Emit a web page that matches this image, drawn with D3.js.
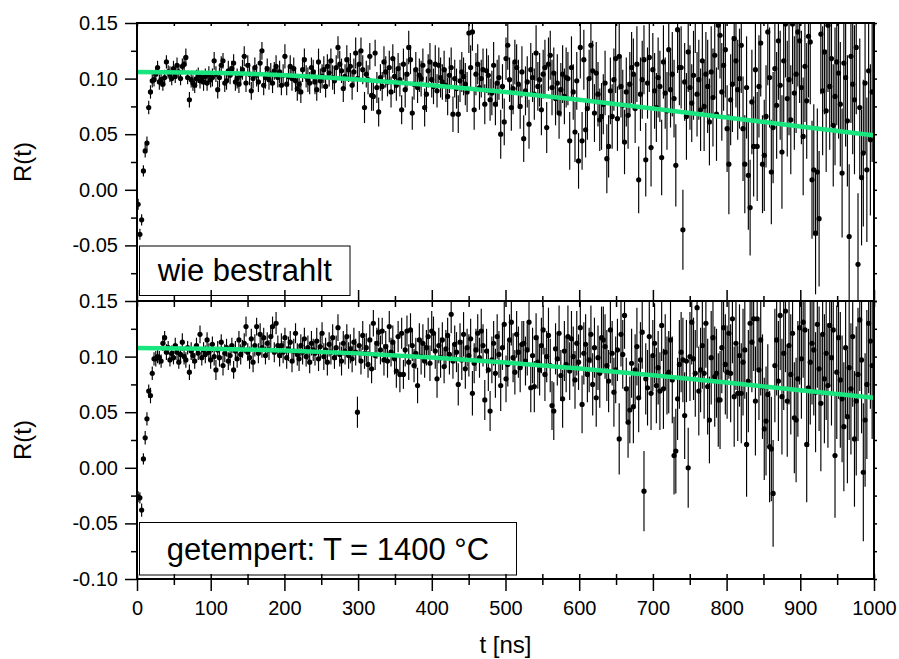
<!DOCTYPE html>
<html>
<head>
<meta charset="utf-8">
<script src="https://cdn.jsdelivr.net/npm/d3@7"></script>
<style>
  html, body { margin: 0; padding: 0; background: #fff; }
  svg { display: block; font-family: "Liberation Sans", Arial, sans-serif; }
</style>
</head>
<body>
<svg id="chart" width="899" height="659"></svg>
<script>
// time channels: first channel centre at 1.5 ns, channel width 2.4 ns
const channelStart = 1.5;
const channelWidth = 2.4;

// R(t) and its error, both in units of 1e-3 -- panel "wie bestrahlt"
const topR = [
  -13,-40,-27,17,35,42,74,88,98,99,104,110,97,99,95,101,115,106,104,100,
  109,102,112,106,100,111,113,119,101,81,99,96,94,100,103,98,101,97,102,96,
  103,99,101,116,104,90,101,112,116,96,98,107,103,109,114,97,100,95,103,108,
  120,96,112,104,89,100,110,103,97,114,125,94,101,109,99,104,96,107,111,101,
  106,94,103,120,95,102,111,100,109,98,91,95,88,108,117,102,99,96,110,106,
  97,90,115,98,102,108,93,111,105,116,101,98,110,128,113,107,91,102,117,108,
  111,94,106,123,100,113,125,108,74,104,99,120,85,84,123,92,70,101,93,115,
  106,97,110,88,118,102,94,109,99,72,113,90,104,128,117,69,95,108,92,103,
  100,112,74,86,107,115,99,93,113,89,112,101,97,108,94,84,103,110,68,100,
  91,68,98,106,102,95,88,141,110,142,72,104,113,92,100,108,77,107,103,81,
  87,112,77,96,101,50,93,61,118,130,99,74,91,115,110,95,75,106,46,89,
  97,59,108,101,86,123,93,99,72,104,110,56,113,121,92,105,82,96,69,90,
  104,84,101,100,44,110,88,52,98,26,128,44,117,54,73,100,130,107,69,105,
  86,63,66,77,96,28,39,89,66,99,118,64,120,93,76,43,88,67,95,110,
  104,73,113,9,86,99,117,27,96,119,38,108,89,74,101,93,29,115,87,71,
  126,90,104,82,22,144,110,110,-36,97,66,124,92,78,103,160,86,99,72,116,
  75,104,93,61,106,83,121,68,148,139,88,112,126,55,23,81,95,136,116,90,
  100,130,55,23,92,13,-16,79,39,108,39,93,132,23,31,66,142,101,16,56,
  109,76,134,94,34,116,149,82,99,63,149,87,104,142,134,92,48,111,80,138,
  133,9,18,-39,16,-26,140,89,124,71,148,93,118,58,84,115,105,77,15,114,
  101,62,-42,120,95,81,128,-67,74,11,33,96,18,107,45,88
];
const topErr = [
  5,5,5,5,6,6,6,6,6,6,6,6,7,6,6,7,6,6,7,6,
  7,6,7,7,6,7,7,8,6,7,7,7,7,8,7,7,6,8,7,7,
  8,7,8,8,7,8,9,8,7,8,8,9,8,7,8,8,9,8,8,9,
  9,8,9,10,8,9,9,10,9,9,8,9,10,9,9,10,9,8,10,9,
  10,9,10,11,10,9,10,11,10,10,11,9,10,11,10,10,11,10,9,11,
  11,10,12,11,11,12,10,11,12,11,11,12,11,10,12,11,12,11,13,11,
  12,13,12,14,12,13,12,13,14,12,13,12,14,13,12,14,13,12,13,14,
  14,13,15,14,13,15,14,14,15,13,14,16,14,15,13,15,14,16,14,15,
  16,15,17,16,15,17,16,16,17,15,16,18,16,17,15,17,16,18,16,17,
  18,17,19,18,17,19,18,18,20,17,18,19,18,20,17,19,18,20,18,19,
  20,21,19,21,20,22,20,21,19,22,20,21,23,20,21,22,20,23,21,22,
  23,22,24,22,23,25,22,24,23,22,25,23,24,22,25,23,24,26,23,24,
  26,25,27,24,26,28,25,27,26,25,28,26,27,25,28,26,29,27,26,28,
  29,28,30,27,29,31,28,30,29,28,31,29,30,28,32,29,31,30,29,32,
  32,31,34,30,33,35,31,33,32,31,35,33,34,31,36,32,34,33,32,35,
  36,34,38,35,37,39,34,37,36,35,39,36,38,35,40,37,38,36,37,40,
  40,38,42,39,41,44,38,42,40,39,44,41,43,39,45,41,43,40,42,45,
  45,43,47,44,46,49,43,47,45,44,49,46,48,44,50,46,48,45,47,50,
  50,48,53,49,51,55,48,52,50,49,54,51,53,49,56,51,53,50,52,55,
  56,53,59,55,57,61,54,58,56,55,60,57,59,55,62,57,59,56,58,61,
  62,59,65,60,63,67,60,64,62,61,66,63,65,61,68,63
];

// panel "getempert: T = 1400 °C"
const bottomR = [
  -26,-27,-38,8,27,44,69,65,85,98,98,100,99,96,112,117,104,108,97,103,
  99,110,104,95,102,113,100,97,108,86,105,101,96,110,103,120,99,106,102,115,
  104,97,111,100,88,106,99,113,92,103,108,96,101,110,88,105,98,115,102,107,
  112,127,104,99,116,95,110,127,103,120,108,117,101,112,106,118,127,104,130,110,
  101,110,104,117,99,107,113,96,105,121,102,98,110,104,116,100,108,95,112,106,
  103,114,98,109,121,100,106,95,111,104,117,99,108,126,102,96,112,105,118,101,
  107,98,113,104,50,110,96,119,103,108,93,115,89,130,101,112,122,106,123,97,
  109,96,127,104,113,98,87,118,84,121,84,106,123,95,124,110,92,103,74,115,
  100,112,96,108,118,94,123,121,105,80,110,99,115,91,107,119,102,138,96,111,
  104,75,113,97,120,89,108,101,116,67,94,106,121,99,123,110,61,105,88,51,
  97,112,85,118,102,74,108,129,80,93,115,131,99,86,120,104,90,111,112,96,
  106,131,72,101,73,117,95,88,110,124,84,100,119,92,56,51,107,98,121,83,
  62,105,93,118,87,116,100,79,112,95,126,57,103,111,84,97,120,75,108,63,
  99,85,117,115,109,92,78,124,103,68,88,106,26,120,102,137,71,41,52,94,
  55,88,109,63,97,122,-21,80,72,118,67,101,112,74,90,69,128,71,104,83,
  86,115,79,11,15,62,93,104,97,47,96,0,100,131,98,85,144,69,88,110,
  85,130,73,43,99,117,82,85,61,61,108,126,93,86,121,85,134,64,112,67,
  101,67,95,106,21,78,130,113,134,60,134,88,115,73,35,42,66,19,17,-23,
  92,115,78,137,64,103,141,60,110,84,121,45,43,80,126,98,131,124,21,72,
  95,112,106,68,129,89,58,120,80,103,74,128,99,124,11,86,117,79,62,37,
  108,46,90,71,118,26,60,84,133,97,-4,43,75,130,114,92
];
const bottomErr = [
  5,5,6,5,6,6,6,7,6,6,7,6,6,6,7,6,7,6,6,7,
  6,7,7,6,7,8,7,7,6,7,8,7,7,7,6,8,7,7,8,7,
  8,8,7,8,9,8,8,7,9,8,8,8,9,7,8,9,8,8,9,8,
  9,9,8,10,9,9,10,8,9,10,9,9,8,10,9,10,9,9,10,9,
  10,11,10,9,10,11,10,10,11,9,10,11,10,11,10,9,11,10,11,10,
  11,12,11,11,10,12,11,12,11,11,12,10,11,12,11,13,11,12,11,12,
  13,12,13,12,14,13,12,13,14,13,12,14,13,12,13,14,13,13,12,14,
  14,15,14,13,15,14,15,14,16,14,13,15,14,16,15,14,15,14,16,15,
  16,17,15,16,17,16,18,15,16,17,16,18,16,15,17,16,18,17,16,17,
  18,19,17,18,20,18,17,19,18,20,18,19,17,18,20,19,18,20,19,18,
  21,20,22,20,21,23,20,22,21,20,23,21,22,20,21,23,22,21,20,22,
  23,24,22,25,23,22,24,23,25,22,24,23,25,24,22,26,23,24,25,23,
  26,27,25,28,26,25,27,26,29,25,27,26,28,27,25,29,26,28,27,26,
  29,31,28,30,29,32,28,30,29,31,30,28,32,29,31,30,28,32,30,31,
  33,32,35,31,34,33,36,32,34,35,33,32,36,34,33,35,32,36,34,35,
  37,36,39,35,38,37,40,36,38,39,37,36,40,38,37,39,36,40,38,39,
  41,40,43,39,42,41,45,40,42,44,41,40,45,42,41,44,40,45,42,43,
  46,45,48,44,47,46,50,45,47,49,46,45,50,47,46,49,45,50,47,48,
  51,50,54,49,52,51,55,50,53,54,51,50,56,52,51,54,50,55,52,53,
  56,55,59,54,57,56,61,55,58,60,56,55,61,57,56,60,55,61,57,58,
  62,60,65,59,63,61,67,60,64,66,62,60,67,63,61,66
];

// fitted curves, read every 100 ns
const fitT = [0, 100, 200, 300, 400, 500, 600, 700, 800, 900, 1000];
const topFit = [0.106, 0.1053, 0.1030, 0.0991, 0.0940, 0.0880, 0.0810, 0.0732, 0.0650, 0.0569, 0.049];
const bottomFit = [0.1077, 0.1071, 0.1055, 0.1029, 0.0992, 0.0946, 0.0893, 0.0832, 0.0767, 0.0698, 0.0630];

const xTicks = [0, 100, 200, 300, 400, 500, 600, 700, 800, 900, 1000];
const xMinorTicks = [50, 150, 250, 350, 450, 550, 650, 750, 850, 950];
const topYTicks = [0.15, 0.10, 0.05, 0.00, -0.05];
const bottomYTicks = [0.15, 0.10, 0.05, 0.00, -0.05, -0.10];
const yMinorTicks = [0.125, 0.075, 0.025, -0.025, -0.075];
const yAllTicks = [0.15, 0.125, 0.10, 0.075, 0.05, 0.025, 0.00, -0.025, -0.05, -0.075, -0.10];
const labels = ["wie bestrahlt", "getempert: T = 1400 °C"];

const svg = d3.select("#chart");
const plotLeft = 137, plotRight = 874, plotTop = 23, plotMid = 301, plotBottom = 579;
const green = "#19e57f";

svg.append("rect").attr("width", 899).attr("height", 659).attr("fill", "#fff");

const x = d3.scaleLinear().domain([0, 1000]).range([plotLeft, plotRight]);
const fmt = d => d3.format(".2f")(d).replace("\u2212", "-");

const panels = [
  { r: topR, err: topErr, fit: topFit, ticks: topYTicks, y0: plotTop, y1: plotMid,
    label: labels[0], box: { x: 139.5, y: 246, w: 210.5, h: 49.5, base: 281 } },
  { r: bottomR, err: bottomErr, fit: bottomFit, ticks: bottomYTicks, y0: plotMid, y1: plotBottom,
    label: labels[1], box: { x: 139.5, y: 522.5, w: 377, h: 52.5, base: 560 } }
];

panels.forEach((p, i) => {
  const y = d3.scaleLinear().domain([-0.1, 0.15]).range([p.y1, p.y0]);
  const data = p.r.map((v, k) => ({
    t: channelStart + k * channelWidth,
    r: v / 1000,
    e: p.err[k] / 1000
  }));

  const clipId = "clip" + i;
  svg.append("clipPath").attr("id", clipId)
    .append("rect")
    .attr("x", plotLeft).attr("y", p.y0)
    .attr("width", plotRight - plotLeft).attr("height", p.y1 - p.y0);

  const plot = svg.append("g").attr("clip-path", `url(#${clipId})`);

  // error bars
  plot.append("g")
    .selectAll("line")
    .data(data)
    .join("line")
    .attr("x1", d => x(d.t))
    .attr("x2", d => x(d.t))
    .attr("y1", d => y(d.r - d.e))
    .attr("y2", d => y(d.r + d.e))
    .attr("stroke", "#000")
    .attr("stroke-width", 1.15);

  // points
  plot.append("g")
    .selectAll("circle")
    .data(data)
    .join("circle")
    .attr("cx", d => x(d.t))
    .attr("cy", d => y(d.r))
    .attr("r", 2.6)
    .attr("fill", "#000");

  // fit
  plot.append("path")
    .datum(fitT.map((t, k) => [t, p.fit[k]]))
    .attr("d", d3.line().x(d => x(d[0])).y(d => y(d[1])).curve(d3.curveMonotoneX))
    .attr("fill", "none")
    .attr("stroke", green)
    .attr("stroke-width", 4.5);

  // label box
  svg.append("rect")
    .attr("x", p.box.x).attr("y", p.box.y)
    .attr("width", p.box.w).attr("height", p.box.h)
    .attr("fill", "#fff").attr("stroke", "#000").attr("stroke-width", 1);
  svg.append("text")
    .attr("x", p.box.x + p.box.w / 2).attr("y", p.box.base)
    .attr("text-anchor", "middle")
    .attr("font-size", 31)
    .attr("fill", "#000")
    .text(p.label);

  // left axis: major with labels, minor without
  const gl = svg.append("g").attr("transform", `translate(${plotLeft},0)`)
    .call(d3.axisLeft(y).tickValues(p.ticks).tickFormat(fmt)
      .tickSizeInner(12).tickSizeOuter(0).tickPadding(7));
  gl.selectAll("text").attr("font-size", 20).attr("font-family", null).attr("fill", "#000");
  svg.append("g").attr("transform", `translate(${plotLeft},0)`)
    .call(d3.axisLeft(y).tickValues(yMinorTicks).tickFormat("").tickSize(6).tickSizeOuter(0));

  // right axis: short outward ticks
  svg.append("g").attr("transform", `translate(${plotRight},0)`)
    .call(d3.axisRight(y).tickValues(yAllTicks).tickFormat("").tickSize(3).tickSizeOuter(0));

  // y-axis title
  svg.append("text")
    .attr("transform", `translate(31,${(p.y0 + p.y1) / 2}) rotate(-90)`)
    .attr("text-anchor", "middle")
    .attr("font-size", 24)
    .attr("fill", "#000")
    .text("R(t)");
});

// x ticks along the top edge
svg.append("g").attr("transform", `translate(0,${plotTop})`)
  .call(d3.axisBottom(x).tickValues(xTicks.concat(xMinorTicks)).tickFormat("").tickSize(3).tickSizeOuter(0));

// x ticks on the shared middle edge (in and out)
const gm = svg.append("g").attr("transform", `translate(0,${plotMid})`)
  .call(d3.axisBottom(x).tickValues(xTicks).tickFormat("").tickSize(6).tickSizeOuter(0));
gm.selectAll(".tick line").attr("y1", -11);
const gm2 = svg.append("g").attr("transform", `translate(0,${plotMid})`)
  .call(d3.axisBottom(x).tickValues(xMinorTicks).tickFormat("").tickSize(6).tickSizeOuter(0));
gm2.selectAll(".tick line").attr("y1", -5);

// bottom x axis with labels
const gb = svg.append("g").attr("transform", `translate(0,${plotBottom})`)
  .call(d3.axisBottom(x).tickValues(xTicks).tickFormat(d3.format("d"))
    .tickSizeInner(12).tickSizeOuter(0).tickPadding(10));
gb.selectAll(".tick line").attr("y1", -5);
gb.selectAll("text").attr("font-size", 20).attr("font-family", null).attr("fill", "#000");
const gb2 = svg.append("g").attr("transform", `translate(0,${plotBottom})`)
  .call(d3.axisBottom(x).tickValues(xMinorTicks).tickFormat("").tickSize(6).tickSizeOuter(0));
gb2.selectAll(".tick line").attr("y1", -5);

svg.selectAll(".domain").remove();
svg.selectAll(".tick line").attr("stroke", "#000").attr("stroke-width", 1.5);

// frames
[[plotTop, plotMid], [plotMid, plotBottom]].forEach(([a, b]) => {
  svg.append("rect")
    .attr("x", plotLeft).attr("y", a)
    .attr("width", plotRight - plotLeft).attr("height", b - a)
    .attr("fill", "none").attr("stroke", "#000").attr("stroke-width", 2);
});

svg.append("text")
  .attr("x", (plotLeft + plotRight) / 2).attr("y", 653)
  .attr("text-anchor", "middle")
  .attr("font-size", 24)
  .attr("fill", "#000")
  .text("t [ns]");
</script>
</body>
</html>
